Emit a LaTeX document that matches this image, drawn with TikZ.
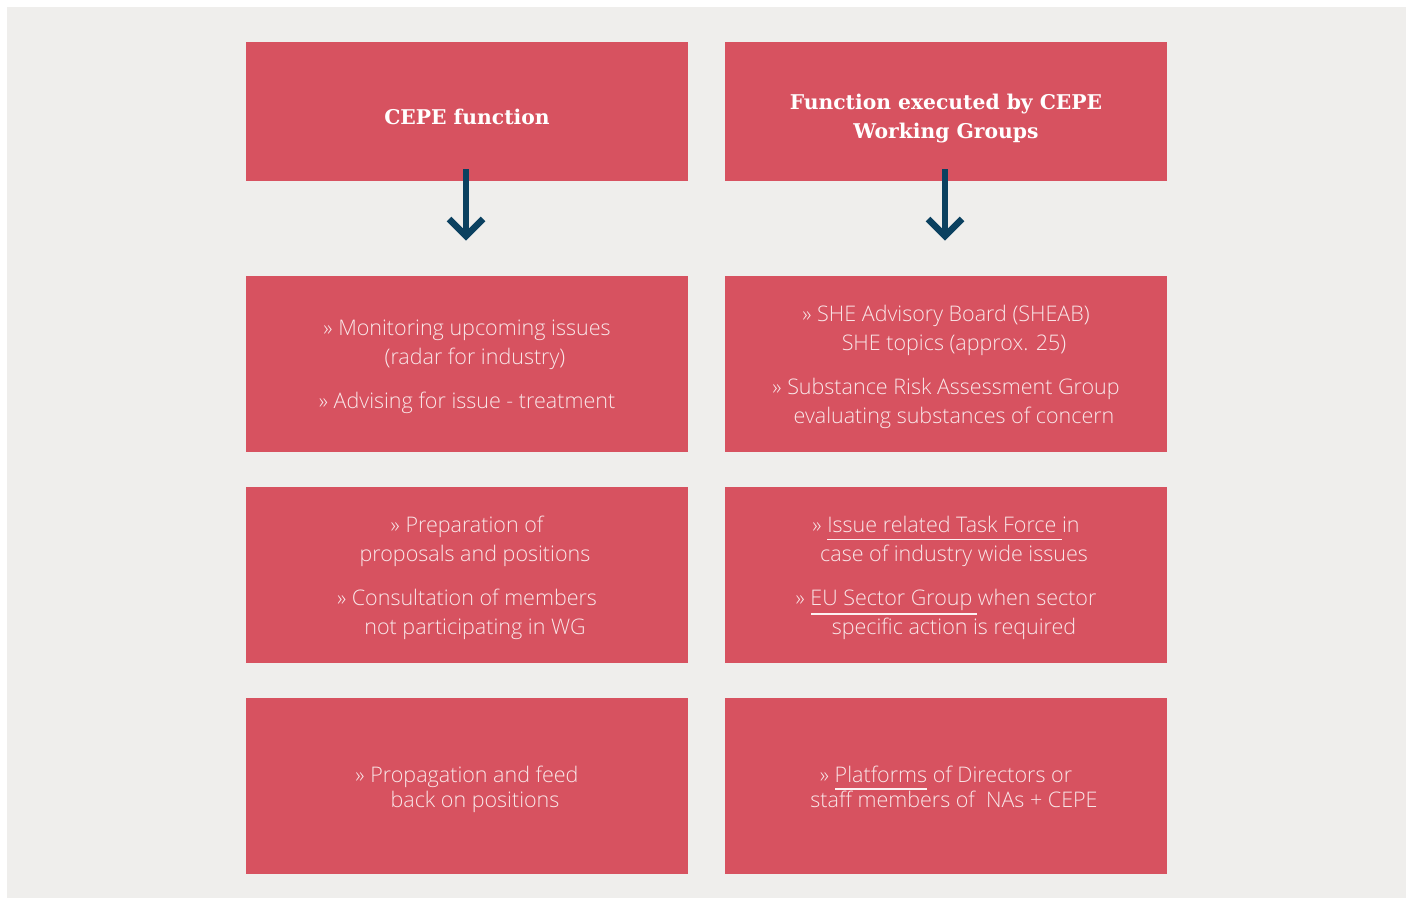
\documentclass[tikz,border=0pt]{standalone}
\usepackage{fontspec}
\setmainfont{Open Sans}[UprightFont=* Light, BoldFont=* Bold]
\newfontfamily\slab{DejaVu Serif}
\definecolor{bgc}{HTML}{EFEEEC}
\definecolor{boxc}{HTML}{D75260}
\definecolor{txtc}{HTML}{F9E6E8}
\definecolor{arrc}{HTML}{0B4160}
\tikzset{
  cell/.style={fill=boxc, draw=none, inner sep=0pt, minimum width=442pt, minimum height=176pt},
  headcell/.style={cell, minimum height=139pt},
  celltext/.style={align=center, text=txtc, inner sep=0pt, font=\fontsize{21.5}{29}\selectfont},
  headtext/.style={align=center, text=white, inner sep=0pt, font=\slab\bfseries\fontsize{20.3}{29}\selectfont},
  darrow/.style={draw=arrc, line width=6.5pt},
  uline/.style={draw=white!92!boxc, line width=1.2pt}
}
\newcommand{\ind}{\hspace*{16pt}}
\begin{document}
\begin{tikzpicture}[x=1pt,y=-1pt]
\useasboundingbox (0,0) rectangle (1413,899);
\fill[white] (0,0) rectangle (1413,899);
\fill[bgc] (7,7) rectangle (1406,898);

\node[headcell] (h1) at (467,111.5) {};
\node[headcell] (h2) at (946,111.5) {};
\node[headtext] (t1) at ([yshift=-5pt]h1.center) {CEPE function};
\node[headtext] (t2) at ([yshift=-7pt]h2.center) {Function executed by CEPE\\Working Groups};

\node[cell] (l2) at (467,364) {};
\node[cell] (r2) at (946,364) {};
\node[cell] (l3) at (467,575) {};
\node[cell] (r3) at (946,575) {};
\node[cell] (l4) at (467,786) {};
\node[cell] (r4) at (946,786) {};

\node[celltext] (tl2) at ([yshift=-3pt]l2.center) {» Monitoring upcoming issues\\\ind(radar for industry)\\[15pt]» Advising for issue - treatment};
\node[celltext] (tr2) at ([yshift=-3pt]r2.center) {» SHE Advisory Board (SHEAB)\\\ind SHE topics (approx. 25)\\[15pt]» Substance Risk Assessment Group\\\ind evaluating substances of concern};
\node[celltext] (tl3) at ([yshift=-3pt]l3.center) {» Preparation of\\\ind proposals and positions\\[15pt]» Consultation of members\\\ind not participating in WG};
\node[celltext] (tr3) at ([yshift=-3pt]r3.center) {» Issue related Task Force in\\\ind case of industry wide issues\\[15pt]» EU Sector Group when sector\\\ind specific action is required};
\node[celltext, font=\fontsize{21.5}{25}\selectfont] (tl4) at ([yshift=-3pt]l4.center) {» Propagation and feed\\\ind back on positions};
\node[celltext, font=\fontsize{21.5}{25}\selectfont] (tr4) at ([yshift=-1pt]r4.center) {» Platforms of Directors or\\\ind staff members of\ \ NAs + CEPE};

% arrows
\coordinate (a1s) at ([yshift=12pt]h1.south);
\coordinate (a1e) at (466,236);
\coordinate (a2s) at ([yshift=12pt]h2.south);
\coordinate (a2e) at (945,236);
\draw[darrow] (a1s -| a1e) -- (a1e);
\draw[darrow, miter limit=10] ([shift={(-17,-17)}]a1e) -- (a1e) -- ([shift={(17,-17)}]a1e);
\draw[darrow] (a2s -| a2e) -- (a2e);
\draw[darrow, miter limit=10] ([shift={(-17,-17)}]a2e) -- (a2e) -- ([shift={(17,-17)}]a2e);

% underlines
\draw[uline] (827,539.5) -- (1062,539.5);
\draw[uline] (811,614) -- (977,614);
\draw[uline] (835,789) -- (927,789);
\end{tikzpicture}
\end{document}
